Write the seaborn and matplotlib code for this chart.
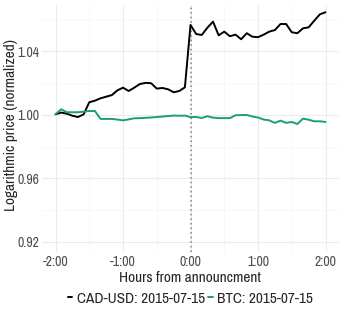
import numpy as np
import pandas as pd
import matplotlib.pyplot as plt
import seaborn as sns
from matplotlib.ticker import MultipleLocator, FuncFormatter

# 5-minute steps, -2:00 .. +2:00 hours around the announcement
hours = np.arange(-24, 25) * 5 / 60

cad_usd = [1.0004, 1.0015, 1.0008, 0.9995, 0.9987, 1.0004, 1.0080, 1.0090, 1.0105, 1.0115,
           1.0125, 1.0155, 1.0172, 1.0151, 1.0172, 1.0195, 1.0202, 1.0200, 1.0166, 1.0170,
           1.0162, 1.0143, 1.0151, 1.0174, 1.0567, 1.0510, 1.0504, 1.0550, 1.0588, 1.0502,
           1.0525, 1.0496, 1.0506, 1.0477, 1.0515, 1.0493, 1.0490, 1.0506, 1.0525, 1.0535,
           1.0573, 1.0573, 1.0521, 1.0515, 1.0546, 1.0552, 1.0594, 1.0634, 1.0647]

btc = [1.0004, 1.0036, 1.0017, 1.0017, 1.0017, 1.0021, 1.0025, 1.0025, 0.9975, 0.9975,
       0.9975, 0.9971, 0.9966, 0.9972, 0.9979, 0.9980, 0.9982, 0.9984, 0.9987, 0.9990,
       0.9993, 0.9996, 0.9995, 0.9996, 0.9986, 0.9987, 0.9981, 0.9992, 0.9983, 0.9980,
       0.9980, 0.9980, 0.9998, 0.9999, 1.0000, 0.9990, 0.9984, 0.9971, 0.9966, 0.9950,
       0.9964, 0.9950, 0.9956, 0.9943, 0.9977, 0.9970, 0.9960, 0.9960, 0.9956]

labels = ['CAD-USD: 2015-07-15', 'BTC: 2015-07-15']
colors = ['#000000', '#1b9e77']

df = pd.concat([
    pd.DataFrame({'hours': hours, 'price': cad_usd, 'series': labels[0]}),
    pd.DataFrame({'hours': hours, 'price': btc, 'series': labels[1]}),
])

sns.set_theme(style='whitegrid')
plt.rcParams['font.family'] = ['Archivo Narrow', 'Roboto Condensed', 'DejaVu Sans']

fig = plt.figure(figsize=(3.39, 3.11), dpi=100)
ax = fig.add_axes([0.124, 0.19, 0.876, 0.794])

ax.axvline(0, color='#7f7f7f', linestyle=(0, (1, 2)), linewidth=1.1, zorder=1)
sns.lineplot(data=df, x='hours', y='price', hue='series', palette=colors,
             linewidth=1.4, ax=ax, zorder=3)

ax.set_xlim(-2.2, 2.2)
ax.set_ylim(0.9137, 1.0693)
ax.xaxis.set_major_locator(MultipleLocator(1))
ax.xaxis.set_minor_locator(MultipleLocator(0.5))
ax.yaxis.set_major_locator(MultipleLocator(0.04))
ax.yaxis.set_minor_locator(MultipleLocator(0.02))
ax.xaxis.set_major_formatter(FuncFormatter(lambda v, p: f'{int(round(v))}:00'))
ax.yaxis.set_major_formatter(FuncFormatter(lambda v, p: f'{v:.2f}'))

ax.set_facecolor('white')
ax.grid(which='major', color='#ebebeb', linewidth=0.8)
ax.grid(which='minor', color='#f4f4f4', linewidth=0.5)
for s in ax.spines.values():
    s.set_visible(False)
ax.tick_params(which='both', length=0, labelsize=10, labelcolor='#4d4d4d')
ax.tick_params(axis='x', pad=2)
ax.tick_params(axis='y', pad=2)

ax.set_xlabel('Hours from announcment', fontsize=11)
ax.set_ylabel('Logarithmic price (normalized)', fontsize=11)
ax.xaxis.set_label_coords(0.497, -0.078)
ax.yaxis.set_label_coords(-0.08, 0.515)

ax.legend(title=None, loc='center', bbox_to_anchor=(0.5, -0.19), ncol=2,
          frameon=False, fontsize=11, handlelength=0.3, handletextpad=0.3,
          columnspacing=0.2, borderaxespad=0)

fig.savefig('out.png', dpi=100)
